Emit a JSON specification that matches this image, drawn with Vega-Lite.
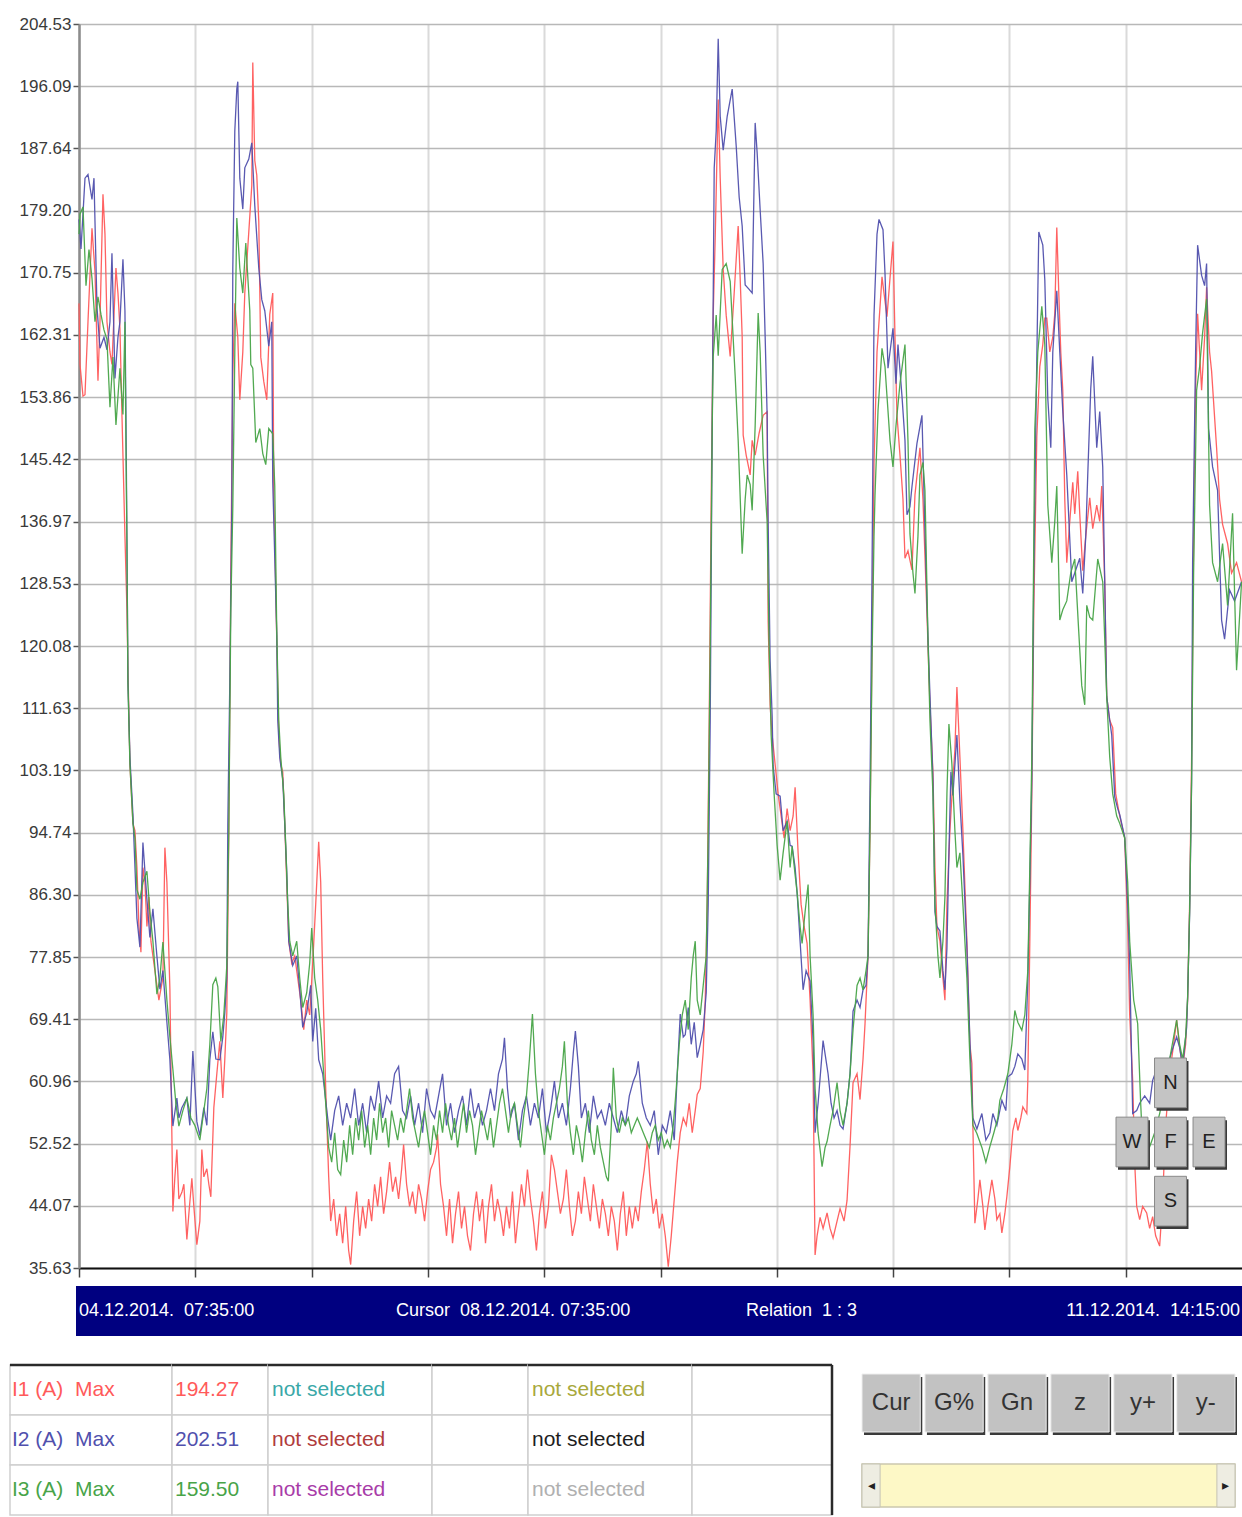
{
"$schema": "https://vega.github.io/schema/vega-lite/v6.json",
"background": "white",
"padding": {"left": 8, "top": 15, "right": 0, "bottom": 0},
"config": {"view": {"stroke": null}, "axis": {"labelFont": "Liberation Sans, Arial, sans-serif"}},
"datasets": {"d": [
{"s":"I1","t":0,"v":166.6},{"s":"I1","t":9,"v":158.3},{"s":"I1","t":36,"v":154},{"s":"I1","t":54,"v":154.2},{"s":"I1","t":81,"v":164.1},{"s":"I1","t":117,"v":176.8},{"s":"I1","t":144,"v":170.9},{"s":"I1","t":171,"v":156.1},{"s":"I1","t":189,"v":164.1},{"s":"I1","t":216,"v":181.4},{"s":"I1","t":234,"v":176},{"s":"I1","t":252,"v":164.1},{"s":"I1","t":279,"v":160},{"s":"I1","t":297,"v":158.3},{"s":"I1","t":333,"v":171.4},{"s":"I1","t":351,"v":168},{"s":"I1","t":369,"v":163.2},{"s":"I1","t":387,"v":151.5},{"s":"I1","t":414,"v":135},{"s":"I1","t":432,"v":125},{"s":"I1","t":441,"v":117},{"s":"I1","t":459,"v":104},{"s":"I1","t":486,"v":96},{"s":"I1","t":504,"v":95},{"s":"I1","t":522,"v":90},{"s":"I1","t":540,"v":82},{"s":"I1","t":558,"v":78.5},{"s":"I1","t":576,"v":90},{"s":"I1","t":594,"v":88},{"s":"I1","t":612,"v":82},{"s":"I1","t":630,"v":86},{"s":"I1","t":648,"v":80},{"s":"I1","t":666,"v":78},{"s":"I1","t":693,"v":75},{"s":"I1","t":720,"v":72},{"s":"I1","t":756,"v":75},{"s":"I1","t":774,"v":92.7},{"s":"I1","t":792,"v":88},{"s":"I1","t":819,"v":73.5},{"s":"I1","t":837,"v":53.6},{"s":"I1","t":846,"v":43.3},{"s":"I1","t":864,"v":48},{"s":"I1","t":882,"v":51.7},{"s":"I1","t":900,"v":45},{"s":"I1","t":927,"v":45.9},{"s":"I1","t":945,"v":47},{"s":"I1","t":972,"v":39.5},{"s":"I1","t":990,"v":43},{"s":"I1","t":1017,"v":47.8},{"s":"I1","t":1035,"v":44},{"s":"I1","t":1062,"v":38.8},{"s":"I1","t":1089,"v":42},{"s":"I1","t":1107,"v":51.7},{"s":"I1","t":1125,"v":48},{"s":"I1","t":1152,"v":49.1},{"s":"I1","t":1170,"v":47},{"s":"I1","t":1188,"v":45.3},{"s":"I1","t":1215,"v":57.4},{"s":"I1","t":1242,"v":62},{"s":"I1","t":1269,"v":66.4},{"s":"I1","t":1296,"v":58.7},{"s":"I1","t":1314,"v":64},{"s":"I1","t":1332,"v":70.3},{"s":"I1","t":1350,"v":95},{"s":"I1","t":1368,"v":130},{"s":"I1","t":1386,"v":156.9},{"s":"I1","t":1404,"v":166.6},{"s":"I1","t":1431,"v":162},{"s":"I1","t":1449,"v":153.5},{"s":"I1","t":1476,"v":160},{"s":"I1","t":1494,"v":168},{"s":"I1","t":1530,"v":176.3},{"s":"I1","t":1557,"v":182.6},{"s":"I1","t":1566,"v":199.3},{"s":"I1","t":1584,"v":186},{"s":"I1","t":1602,"v":184},{"s":"I1","t":1620,"v":177.7},{"s":"I1","t":1638,"v":159.3},{"s":"I1","t":1665,"v":156},{"s":"I1","t":1692,"v":153.5},{"s":"I1","t":1719,"v":165.1},{"s":"I1","t":1746,"v":168},{"s":"I1","t":1755,"v":140.9},{"s":"I1","t":1764,"v":135},{"s":"I1","t":1782,"v":121},{"s":"I1","t":1800,"v":108},{"s":"I1","t":1818,"v":104},{"s":"I1","t":1836,"v":103},{"s":"I1","t":1854,"v":96},{"s":"I1","t":1872,"v":88},{"s":"I1","t":1890,"v":80},{"s":"I1","t":1917,"v":77},{"s":"I1","t":1944,"v":78},{"s":"I1","t":1971,"v":75},{"s":"I1","t":1998,"v":72},{"s":"I1","t":2025,"v":68},{"s":"I1","t":2052,"v":72},{"s":"I1","t":2079,"v":70},{"s":"I1","t":2106,"v":77},{"s":"I1","t":2133,"v":85},{"s":"I1","t":2160,"v":93.5},{"s":"I1","t":2178,"v":88},{"s":"I1","t":2196,"v":75},{"s":"I1","t":2223,"v":60},{"s":"I1","t":2250,"v":48},{"s":"I1","t":2268,"v":42},
{"s":"I1","t":2295,"v":45},{"s":"I1","t":2322,"v":40},{"s":"I1","t":2349,"v":43},{"s":"I1","t":2376,"v":39},{"s":"I1","t":2403,"v":44},{"s":"I1","t":2430,"v":38},{"s":"I1","t":2448,"v":36.1},{"s":"I1","t":2475,"v":42},{"s":"I1","t":2502,"v":46},{"s":"I1","t":2529,"v":40},{"s":"I1","t":2556,"v":44},{"s":"I1","t":2583,"v":41},{"s":"I1","t":2610,"v":45},{"s":"I1","t":2637,"v":42},{"s":"I1","t":2664,"v":47},{"s":"I1","t":2691,"v":44},{"s":"I1","t":2718,"v":48},{"s":"I1","t":2745,"v":43},{"s":"I1","t":2772,"v":46},{"s":"I1","t":2799,"v":50},{"s":"I1","t":2826,"v":46},{"s":"I1","t":2853,"v":48},{"s":"I1","t":2880,"v":45},{"s":"I1","t":2907,"v":49},{"s":"I1","t":2925,"v":52.4},{"s":"I1","t":2952,"v":47},{"s":"I1","t":2979,"v":44},{"s":"I1","t":3006,"v":46},{"s":"I1","t":3033,"v":43},{"s":"I1","t":3060,"v":47},{"s":"I1","t":3087,"v":45},{"s":"I1","t":3114,"v":42},{"s":"I1","t":3141,"v":46},{"s":"I1","t":3168,"v":49},{"s":"I1","t":3195,"v":50},{"s":"I1","t":3222,"v":52},{"s":"I1","t":3231,"v":53.8},{"s":"I1","t":3258,"v":47},{"s":"I1","t":3285,"v":44},{"s":"I1","t":3312,"v":40},{"s":"I1","t":3339,"v":45},{"s":"I1","t":3366,"v":39},{"s":"I1","t":3393,"v":43},{"s":"I1","t":3420,"v":46},{"s":"I1","t":3447,"v":41},{"s":"I1","t":3474,"v":44},{"s":"I1","t":3501,"v":40},{"s":"I1","t":3528,"v":38},{"s":"I1","t":3555,"v":43},{"s":"I1","t":3582,"v":46},{"s":"I1","t":3609,"v":42},{"s":"I1","t":3636,"v":45},{"s":"I1","t":3663,"v":39},{"s":"I1","t":3690,"v":44},{"s":"I1","t":3717,"v":47},{"s":"I1","t":3744,"v":42},{"s":"I1","t":3771,"v":45},{"s":"I1","t":3798,"v":43},{"s":"I1","t":3825,"v":40},{"s":"I1","t":3852,"v":44},{"s":"I1","t":3879,"v":41},{"s":"I1","t":3906,"v":46},{"s":"I1","t":3933,"v":39},{"s":"I1","t":3960,"v":43},{"s":"I1","t":3987,"v":47},{"s":"I1","t":4014,"v":44},{"s":"I1","t":4041,"v":49},{"s":"I1","t":4068,"v":45},{"s":"I1","t":4095,"v":42},{"s":"I1","t":4122,"v":38},{"s":"I1","t":4149,"v":43},{"s":"I1","t":4176,"v":46},{"s":"I1","t":4203,"v":41},{"s":"I1","t":4230,"v":44},{"s":"I1","t":4257,"v":51},{"s":"I1","t":4284,"v":49},{"s":"I1","t":4311,"v":46},{"s":"I1","t":4338,"v":43},{"s":"I1","t":4365,"v":45},{"s":"I1","t":4392,"v":49},{"s":"I1","t":4419,"v":44},{"s":"I1","t":4446,"v":40},{"s":"I1","t":4473,"v":42},{"s":"I1","t":4500,"v":46},{"s":"I1","t":4527,"v":43},{"s":"I1","t":4554,"v":48},{"s":"I1","t":4581,"v":45},{"s":"I1","t":4608,"v":42},{"s":"I1","t":4635,"v":47},{"s":"I1","t":4662,"v":44},{"s":"I1","t":4689,"v":41},{"s":"I1","t":4716,"v":45},{"s":"I1","t":4743,"v":43},{"s":"I1","t":4770,"v":40},{"s":"I1","t":4797,"v":44},{"s":"I1","t":4824,"v":42},{"s":"I1","t":4851,"v":38},{"s":"I1","t":4878,"v":43},{"s":"I1","t":4905,"v":46},{"s":"I1","t":4932,"v":40},{"s":"I1","t":4959,"v":44},{"s":"I1","t":4986,"v":41},{"s":"I1","t":5013,"v":44},{"s":"I1","t":5040,"v":42},{"s":"I1","t":5067,"v":46},{"s":"I1","t":5094,"v":49},{"s":"I1","t":5121,"v":52.8},{"s":"I1","t":5148,"v":47},{"s":"I1","t":5175,"v":43},{"s":"I1","t":5202,"v":45},{"s":"I1","t":5229,"v":41},{"s":"I1","t":5256,"v":43},{"s":"I1","t":5283,"v":40},{"s":"I1","t":5310,"v":35.8},{"s":"I1","t":5337,"v":40},{"s":"I1","t":5364,"v":45},{"s":"I1","t":5391,"v":50},{"s":"I1","t":5418,"v":54},{"s":"I1","t":5445,"v":56},{"s":"I1","t":5472,"v":55},{"s":"I1","t":5499,"v":58},{"s":"I1","t":5526,"v":54},{"s":"I1","t":5553,"v":57},{"s":"I1","t":5571,"v":59.2},{"s":"I1","t":5598,"v":60},{"s":"I1","t":5625,"v":65},{"s":"I1","t":5643,"v":71.9},{"s":"I1","t":5661,"v":85},{"s":"I1","t":5679,"v":110},{"s":"I1","t":5697,"v":140},{"s":"I1","t":5715,"v":165},{"s":"I1","t":5733,"v":175.5},{"s":"I1","t":5760,"v":194.27},
{"s":"I1","t":5778,"v":183.6},{"s":"I1","t":5805,"v":171.2},{"s":"I1","t":5832,"v":165},{"s":"I1","t":5868,"v":159.4},{"s":"I1","t":5904,"v":168},{"s":"I1","t":5940,"v":177.1},{"s":"I1","t":5958,"v":170},{"s":"I1","t":5976,"v":162.1},{"s":"I1","t":5985,"v":148.7},{"s":"I1","t":6012,"v":146},{"s":"I1","t":6048,"v":143.3},{"s":"I1","t":6066,"v":148},{"s":"I1","t":6093,"v":146},{"s":"I1","t":6129,"v":149},{"s":"I1","t":6165,"v":151.4},{"s":"I1","t":6201,"v":151.9},{"s":"I1","t":6210,"v":123.4},{"s":"I1","t":6228,"v":112},{"s":"I1","t":6246,"v":108},{"s":"I1","t":6273,"v":104},{"s":"I1","t":6300,"v":100},{"s":"I1","t":6327,"v":97},{"s":"I1","t":6354,"v":94},{"s":"I1","t":6381,"v":98},{"s":"I1","t":6408,"v":95},{"s":"I1","t":6435,"v":97},{"s":"I1","t":6453,"v":100.9},{"s":"I1","t":6480,"v":92},{"s":"I1","t":6507,"v":85},{"s":"I1","t":6534,"v":82},{"s":"I1","t":6561,"v":79.7},{"s":"I1","t":6588,"v":72},{"s":"I1","t":6615,"v":62},{"s":"I1","t":6633,"v":37.4},{"s":"I1","t":6651,"v":40},{"s":"I1","t":6678,"v":42.5},{"s":"I1","t":6705,"v":41},{"s":"I1","t":6741,"v":43.1},{"s":"I1","t":6768,"v":41},{"s":"I1","t":6795,"v":39.7},{"s":"I1","t":6831,"v":42},{"s":"I1","t":6858,"v":43.7},{"s":"I1","t":6894,"v":42},{"s":"I1","t":6921,"v":44.8},{"s":"I1","t":6948,"v":52.2},{"s":"I1","t":6975,"v":60.8},{"s":"I1","t":7011,"v":62},{"s":"I1","t":7038,"v":58.5},{"s":"I1","t":7065,"v":64},{"s":"I1","t":7083,"v":68.8},{"s":"I1","t":7110,"v":78},{"s":"I1","t":7128,"v":95},{"s":"I1","t":7146,"v":120},{"s":"I1","t":7164,"v":145},{"s":"I1","t":7191,"v":160},{"s":"I1","t":7236,"v":170.2},{"s":"I1","t":7254,"v":168},{"s":"I1","t":7281,"v":164.8},{"s":"I1","t":7308,"v":170},{"s":"I1","t":7335,"v":175},{"s":"I1","t":7353,"v":162},{"s":"I1","t":7371,"v":151.4},{"s":"I1","t":7398,"v":146},{"s":"I1","t":7425,"v":140},{"s":"I1","t":7443,"v":132},{"s":"I1","t":7470,"v":133},{"s":"I1","t":7506,"v":130.4},{"s":"I1","t":7533,"v":140.6},{"s":"I1","t":7578,"v":147},{"s":"I1","t":7605,"v":140},{"s":"I1","t":7641,"v":124.5},{"s":"I1","t":7668,"v":112},{"s":"I1","t":7695,"v":103},{"s":"I1","t":7713,"v":90},{"s":"I1","t":7731,"v":82},{"s":"I1","t":7758,"v":80},{"s":"I1","t":7785,"v":75},{"s":"I1","t":7803,"v":72},{"s":"I1","t":7821,"v":85},{"s":"I1","t":7848,"v":95},{"s":"I1","t":7875,"v":102},{"s":"I1","t":7893,"v":106},{"s":"I1","t":7911,"v":114.5},{"s":"I1","t":7938,"v":105},{"s":"I1","t":7965,"v":95},{"s":"I1","t":8001,"v":80},{"s":"I1","t":8028,"v":66},{"s":"I1","t":8046,"v":63.4},{"s":"I1","t":8055,"v":54.8},{"s":"I1","t":8073,"v":41.7},{"s":"I1","t":8100,"v":45},{"s":"I1","t":8118,"v":47.6},{"s":"I1","t":8145,"v":44},{"s":"I1","t":8163,"v":40.8},{"s":"I1","t":8190,"v":44},{"s":"I1","t":8226,"v":47.6},{"s":"I1","t":8253,"v":45},{"s":"I1","t":8271,"v":42.2},{"s":"I1","t":8298,"v":43},{"s":"I1","t":8316,"v":40.4},{"s":"I1","t":8343,"v":43},{"s":"I1","t":8361,"v":45.3},{"s":"I1","t":8388,"v":49.4},{"s":"I1","t":8415,"v":54.3},{"s":"I1","t":8442,"v":56},{"s":"I1","t":8460,"v":54.3},{"s":"I1","t":8487,"v":56},{"s":"I1","t":8505,"v":57.5},{"s":"I1","t":8541,"v":56.6},{"s":"I1","t":8550,"v":61.1},{"s":"I1","t":8568,"v":80},{"s":"I1","t":8586,"v":100},{"s":"I1","t":8604,"v":125},{"s":"I1","t":8631,"v":148.5},{"s":"I1","t":8658,"v":158},{"s":"I1","t":8685,"v":161},{"s":"I1","t":8703,"v":164.6},{"s":"I1","t":8721,"v":164.6},{"s":"I1","t":8748,"v":160},{"s":"I1","t":8775,"v":162},{"s":"I1","t":8793,"v":165.2},{"s":"I1","t":8811,"v":176.9},{"s":"I1","t":8829,"v":168},{"s":"I1","t":8847,"v":160},{"s":"I1","t":8865,"v":154.8},{"s":"I1","t":8883,"v":140},{"s":"I1","t":8901,"v":131.4},{"s":"I1","t":8928,"v":137},{"s":"I1","t":8955,"v":142.3},{"s":"I1","t":8973,"v":138},{"s":"I1","t":9000,"v":143.8},{"s":"I1","t":9018,"v":138},{"s":"I1","t":9045,"v":130.3},{"s":"I1","t":9072,"v":135},{"s":"I1","t":9108,"v":140.2},{"s":"I1","t":9135,"v":136},{"s":"I1","t":9171,"v":139.2},{"s":"I1","t":9198,"v":137},{"s":"I1","t":9216,"v":141.8},{"s":"I1","t":9243,"v":128.8},{"s":"I1","t":9261,"v":113.2},{"s":"I1","t":9288,"v":110},{"s":"I1","t":9315,"v":109},{"s":"I1","t":9342,"v":100},{"s":"I1","t":9378,"v":97},{"s":"I1","t":9423,"v":94},{"s":"I1","t":9450,"v":82},{"s":"I1","t":9468,"v":70},{"s":"I1","t":9495,"v":61.1},{"s":"I1","t":9513,"v":50},{"s":"I1","t":9531,"v":44},{"s":"I1","t":9558,"v":42.2},{"s":"I1","t":9585,"v":44},{"s":"I1","t":9621,"v":43.1},{"s":"I1","t":9648,"v":41},{"s":"I1","t":9675,"v":42.6},{"s":"I1","t":9702,"v":40},{"s":"I1","t":9738,"v":38.6},{"s":"I1","t":9765,"v":45},{"s":"I1","t":9792,"v":55},{"s":"I1","t":9828,"v":62},{"s":"I1","t":9864,"v":66},{"s":"I1","t":9891,"v":69.3},{"s":"I1","t":9918,"v":65.6},{"s":"I1","t":9945,"v":62.9},{"s":"I1","t":9972,"v":66},{"s":"I1","t":9990,"v":72},{"s":"I1","t":10008,"v":85},{"s":"I1","t":10026,"v":105},{"s":"I1","t":10044,"v":135},{"s":"I1","t":10062,"v":155},{"s":"I1","t":10080,"v":165.2},{"s":"I1","t":10098,"v":160},{"s":"I1","t":10116,"v":154.8},{"s":"I1","t":10143,"v":162},{"s":"I1","t":10161,"v":168.8},{"s":"I1","t":10188,"v":160},{"s":"I1","t":10206,"v":157.4},{"s":"I1","t":10251,"v":147},{"s":"I1","t":10278,"v":140},{"s":"I1","t":10305,"v":136.6},{"s":"I1","t":10350,"v":134},{"s":"I1","t":10386,"v":130},{"s":"I1","t":10431,"v":131.4},{"s":"I1","t":10476,"v":128.8},
{"s":"I2","t":0,"v":178},{"s":"I2","t":18,"v":174},{"s":"I2","t":54,"v":183.6},{"s":"I2","t":81,"v":184.1},{"s":"I2","t":117,"v":180.7},{"s":"I2","t":135,"v":183.6},{"s":"I2","t":162,"v":166.1},{"s":"I2","t":189,"v":160.5},{"s":"I2","t":225,"v":162},{"s":"I2","t":252,"v":160.3},{"s":"I2","t":279,"v":164.1},{"s":"I2","t":297,"v":173.4},{"s":"I2","t":324,"v":156.4},{"s":"I2","t":351,"v":162},{"s":"I2","t":369,"v":164.1},{"s":"I2","t":396,"v":172.6},{"s":"I2","t":414,"v":165.6},{"s":"I2","t":423,"v":151.5},{"s":"I2","t":432,"v":134.4},{"s":"I2","t":441,"v":115.2},{"s":"I2","t":459,"v":104.9},{"s":"I2","t":486,"v":97.2},{"s":"I2","t":522,"v":83.1},{"s":"I2","t":549,"v":79.2},{"s":"I2","t":576,"v":93.4},{"s":"I2","t":612,"v":85.7},{"s":"I2","t":639,"v":80.5},{"s":"I2","t":666,"v":84.4},{"s":"I2","t":702,"v":78},{"s":"I2","t":729,"v":73.5},{"s":"I2","t":756,"v":76},{"s":"I2","t":792,"v":69},{"s":"I2","t":819,"v":63.9},{"s":"I2","t":846,"v":54.9},{"s":"I2","t":882,"v":58.7},{"s":"I2","t":900,"v":56},{"s":"I2","t":927,"v":57.4},{"s":"I2","t":972,"v":58.7},{"s":"I2","t":999,"v":55},{"s":"I2","t":1026,"v":65.1},{"s":"I2","t":1062,"v":55.5},{"s":"I2","t":1089,"v":53.6},{"s":"I2","t":1125,"v":57.4},{"s":"I2","t":1152,"v":55},{"s":"I2","t":1179,"v":63.9},{"s":"I2","t":1206,"v":67.7},{"s":"I2","t":1233,"v":64},{"s":"I2","t":1269,"v":63.9},{"s":"I2","t":1296,"v":67},{"s":"I2","t":1314,"v":70.3},{"s":"I2","t":1332,"v":75},{"s":"I2","t":1341,"v":95.9},{"s":"I2","t":1359,"v":115.2},{"s":"I2","t":1377,"v":138.9},{"s":"I2","t":1386,"v":171.4},{"s":"I2","t":1404,"v":190},{"s":"I2","t":1422,"v":195.7},{"s":"I2","t":1431,"v":196.7},{"s":"I2","t":1449,"v":183.6},{"s":"I2","t":1476,"v":179.4},{"s":"I2","t":1494,"v":185},{"s":"I2","t":1530,"v":186.2},{"s":"I2","t":1557,"v":188.4},{"s":"I2","t":1584,"v":179.9},{"s":"I2","t":1620,"v":171.4},{"s":"I2","t":1647,"v":167.1},{"s":"I2","t":1674,"v":165.6},{"s":"I2","t":1710,"v":160.8},{"s":"I2","t":1737,"v":164.1},{"s":"I2","t":1746,"v":142.3},{"s":"I2","t":1764,"v":132.1},{"s":"I2","t":1782,"v":121.6},{"s":"I2","t":1791,"v":110},{"s":"I2","t":1809,"v":104.9},{"s":"I2","t":1836,"v":102},{"s":"I2","t":1854,"v":95.9},{"s":"I2","t":1872,"v":89.5},{"s":"I2","t":1890,"v":80},{"s":"I2","t":1926,"v":76.7},{"s":"I2","t":1962,"v":78},{"s":"I2","t":1989,"v":73.5},{"s":"I2","t":2016,"v":68.3},{"s":"I2","t":2052,"v":70.3},{"s":"I2","t":2088,"v":74},{"s":"I2","t":2106,"v":66.4},{"s":"I2","t":2133,"v":70.9},{"s":"I2","t":2160,"v":63.9},{"s":"I2","t":2196,"v":62},{"s":"I2","t":2241,"v":56},
{"s":"I2","t":2268,"v":53},{"s":"I2","t":2304,"v":57},{"s":"I2","t":2340,"v":59},{"s":"I2","t":2376,"v":55},{"s":"I2","t":2412,"v":58},{"s":"I2","t":2448,"v":56},{"s":"I2","t":2484,"v":60},{"s":"I2","t":2520,"v":55},{"s":"I2","t":2556,"v":58},{"s":"I2","t":2592,"v":54},{"s":"I2","t":2628,"v":59},{"s":"I2","t":2664,"v":57},{"s":"I2","t":2700,"v":61},{"s":"I2","t":2736,"v":56},{"s":"I2","t":2772,"v":59},{"s":"I2","t":2808,"v":58},{"s":"I2","t":2844,"v":62},{"s":"I2","t":2880,"v":63},{"s":"I2","t":2916,"v":57},{"s":"I2","t":2952,"v":56},{"s":"I2","t":2988,"v":59},{"s":"I2","t":3024,"v":55},{"s":"I2","t":3060,"v":58},{"s":"I2","t":3096,"v":54},{"s":"I2","t":3132,"v":60},{"s":"I2","t":3168,"v":57},{"s":"I2","t":3204,"v":56},{"s":"I2","t":3240,"v":59},{"s":"I2","t":3276,"v":62},{"s":"I2","t":3312,"v":55},{"s":"I2","t":3348,"v":58},{"s":"I2","t":3384,"v":54},{"s":"I2","t":3420,"v":57},{"s":"I2","t":3456,"v":59},{"s":"I2","t":3492,"v":55},{"s":"I2","t":3528,"v":60},{"s":"I2","t":3564,"v":56},{"s":"I2","t":3600,"v":58},{"s":"I2","t":3636,"v":55},{"s":"I2","t":3672,"v":57},{"s":"I2","t":3708,"v":60},{"s":"I2","t":3744,"v":57},{"s":"I2","t":3780,"v":62},{"s":"I2","t":3816,"v":64},{"s":"I2","t":3834,"v":66.9},{"s":"I2","t":3861,"v":60},{"s":"I2","t":3888,"v":56},{"s":"I2","t":3924,"v":58},{"s":"I2","t":3960,"v":53},{"s":"I2","t":3996,"v":57},{"s":"I2","t":4032,"v":59},{"s":"I2","t":4068,"v":55},{"s":"I2","t":4104,"v":58},{"s":"I2","t":4140,"v":56},{"s":"I2","t":4176,"v":60},{"s":"I2","t":4212,"v":54},{"s":"I2","t":4248,"v":57},{"s":"I2","t":4284,"v":61},{"s":"I2","t":4320,"v":56},{"s":"I2","t":4356,"v":58},{"s":"I2","t":4392,"v":55},{"s":"I2","t":4428,"v":60},{"s":"I2","t":4455,"v":65},{"s":"I2","t":4473,"v":67.8},{"s":"I2","t":4500,"v":63},{"s":"I2","t":4527,"v":56},{"s":"I2","t":4563,"v":58},{"s":"I2","t":4599,"v":54},{"s":"I2","t":4635,"v":59},{"s":"I2","t":4671,"v":56},{"s":"I2","t":4707,"v":57},{"s":"I2","t":4743,"v":55},{"s":"I2","t":4779,"v":58},{"s":"I2","t":4815,"v":56},{"s":"I2","t":4851,"v":54},{"s":"I2","t":4887,"v":57},{"s":"I2","t":4923,"v":55},{"s":"I2","t":4959,"v":59},{"s":"I2","t":4995,"v":61},{"s":"I2","t":5022,"v":62},{"s":"I2","t":5040,"v":63.7},{"s":"I2","t":5076,"v":58},{"s":"I2","t":5112,"v":56},{"s":"I2","t":5148,"v":55},{"s":"I2","t":5184,"v":57},{"s":"I2","t":5220,"v":51},{"s":"I2","t":5256,"v":55},{"s":"I2","t":5292,"v":54},{"s":"I2","t":5328,"v":57},{"s":"I2","t":5364,"v":53},{"s":"I2","t":5391,"v":62},{"s":"I2","t":5418,"v":70.1},{"s":"I2","t":5445,"v":67},{"s":"I2","t":5463,"v":67.3},{"s":"I2","t":5490,"v":71},{"s":"I2","t":5517,"v":66},{"s":"I2","t":5544,"v":69},{"s":"I2","t":5571,"v":64.2},{"s":"I2","t":5598,"v":66},{"s":"I2","t":5625,"v":68},{"s":"I2","t":5652,"v":73},{"s":"I2","t":5670,"v":85},{"s":"I2","t":5688,"v":110},{"s":"I2","t":5706,"v":150},{"s":"I2","t":5724,"v":185},{"s":"I2","t":5742,"v":190},{"s":"I2","t":5760,"v":202.51},{"s":"I2","t":5778,"v":192},{"s":"I2","t":5805,"v":187.4},{"s":"I2","t":5841,"v":192},{"s":"I2","t":5886,"v":195.7},{"s":"I2","t":5922,"v":188},{"s":"I2","t":5949,"v":181},{"s":"I2","t":5976,"v":177.1},{"s":"I2","t":6003,"v":169.1},{"s":"I2","t":6039,"v":168.5},{"s":"I2","t":6066,"v":168},{"s":"I2","t":6093,"v":191.1},{"s":"I2","t":6111,"v":187},{"s":"I2","t":6138,"v":179.3},{"s":"I2","t":6165,"v":172},{"s":"I2","t":6183,"v":162.1},{"s":"I2","t":6201,"v":151.4},{"s":"I2","t":6210,"v":136.9},{"s":"I2","t":6228,"v":118},{"s":"I2","t":6246,"v":110.6},{"s":"I2","t":6255,"v":103.8},{"s":"I2","t":6282,"v":100},{"s":"I2","t":6318,"v":99.7},{"s":"I2","t":6345,"v":95},{"s":"I2","t":6381,"v":96.3},{"s":"I2","t":6408,"v":93},{"s":"I2","t":6426,"v":92.9},{"s":"I2","t":6453,"v":90},{"s":"I2","t":6471,"v":86.6},{"s":"I2","t":6498,"v":80},{"s":"I2","t":6525,"v":73.4},{"s":"I2","t":6552,"v":76},{"s":"I2","t":6588,"v":74.6},{"s":"I2","t":6615,"v":66.5},{"s":"I2","t":6633,"v":54},{"s":"I2","t":6660,"v":58},{"s":"I2","t":6705,"v":66.5},{"s":"I2","t":6750,"v":62},{"s":"I2","t":6777,"v":58},{"s":"I2","t":6804,"v":56},{"s":"I2","t":6831,"v":57},{"s":"I2","t":6858,"v":55},{"s":"I2","t":6885,"v":54.5},{"s":"I2","t":6921,"v":58},{"s":"I2","t":6948,"v":62},{"s":"I2","t":6975,"v":70.5},{"s":"I2","t":7011,"v":72},{"s":"I2","t":7038,"v":71},{"s":"I2","t":7065,"v":73.4},{"s":"I2","t":7092,"v":74},{"s":"I2","t":7110,"v":78},{"s":"I2","t":7128,"v":100.9},{"s":"I2","t":7146,"v":130},{"s":"I2","t":7164,"v":165},{"s":"I2","t":7191,"v":176},{"s":"I2","t":7209,"v":178},{"s":"I2","t":7245,"v":176.6},{"s":"I2","t":7263,"v":170.7},{"s":"I2","t":7290,"v":157.8},{"s":"I2","t":7308,"v":160},{"s":"I2","t":7335,"v":163.2},{"s":"I2","t":7362,"v":155.7},{"s":"I2","t":7380,"v":161},{"s":"I2","t":7416,"v":154},{"s":"I2","t":7443,"v":148},{"s":"I2","t":7461,"v":137.9},{"s":"I2","t":7488,"v":139},{"s":"I2","t":7506,"v":141.7},{"s":"I2","t":7551,"v":147.6},{"s":"I2","t":7596,"v":151.4},{"s":"I2","t":7623,"v":135.8},{"s":"I2","t":7650,"v":121.3},{"s":"I2","t":7668,"v":113.5},{"s":"I2","t":7695,"v":102},{"s":"I2","t":7713,"v":84},{"s":"I2","t":7731,"v":82},{"s":"I2","t":7758,"v":81.4},{"s":"I2","t":7785,"v":76},{"s":"I2","t":7803,"v":73.4},{"s":"I2","t":7821,"v":79},{"s":"I2","t":7839,"v":92},{"s":"I2","t":7857,"v":103},{"s":"I2","t":7875,"v":99.8},{"s":"I2","t":7893,"v":104},{"s":"I2","t":7911,"v":108},{"s":"I2","t":7938,"v":99},{"s":"I2","t":7965,"v":91.7},{"s":"I2","t":8001,"v":79.1},{"s":"I2","t":8028,"v":66.5},{"s":"I2","t":8055,"v":56},{"s":"I2","t":8091,"v":54.5},{"s":"I2","t":8136,"v":56.6},{"s":"I2","t":8172,"v":53},{"s":"I2","t":8208,"v":54},{"s":"I2","t":8235,"v":56.6},{"s":"I2","t":8271,"v":55},{"s":"I2","t":8316,"v":58.4},{"s":"I2","t":8352,"v":57},{"s":"I2","t":8370,"v":61.6},{"s":"I2","t":8406,"v":62},{"s":"I2","t":8433,"v":63},{"s":"I2","t":8460,"v":64.7},{"s":"I2","t":8496,"v":64},{"s":"I2","t":8523,"v":62.5},{"s":"I2","t":8550,"v":74.7},{"s":"I2","t":8568,"v":88.2},{"s":"I2","t":8586,"v":101.7},{"s":"I2","t":8604,"v":130},{"s":"I2","t":8622,"v":150},{"s":"I2","t":8640,"v":168},{"s":"I2","t":8649,"v":176.3},{"s":"I2","t":8685,"v":174.5},{"s":"I2","t":8703,"v":169.8},{"s":"I2","t":8730,"v":153.7},{"s":"I2","t":8757,"v":147},{"s":"I2","t":8775,"v":160},{"s":"I2","t":8811,"v":168.3},{"s":"I2","t":8838,"v":160},{"s":"I2","t":8865,"v":152},{"s":"I2","t":8901,"v":143.3},{"s":"I2","t":8946,"v":128.8},{"s":"I2","t":8991,"v":130.8},{"s":"I2","t":9018,"v":132},{"s":"I2","t":9045,"v":127.2},{"s":"I2","t":9072,"v":135},{"s":"I2","t":9090,"v":143.3},{"s":"I2","t":9117,"v":155},{"s":"I2","t":9135,"v":159.4},{"s":"I2","t":9171,"v":147},{"s":"I2","t":9198,"v":151.9},{"s":"I2","t":9225,"v":144.4},{"s":"I2","t":9243,"v":128.8},{"s":"I2","t":9261,"v":113.2},{"s":"I2","t":9288,"v":110},{"s":"I2","t":9306,"v":108},{"s":"I2","t":9333,"v":99.6},{"s":"I2","t":9360,"v":98},{"s":"I2","t":9378,"v":97.2},{"s":"I2","t":9423,"v":94.1},{"s":"I2","t":9450,"v":85},{"s":"I2","t":9468,"v":76.9},{"s":"I2","t":9495,"v":56.6},{"s":"I2","t":9531,"v":57},{"s":"I2","t":9558,"v":58},{"s":"I2","t":9603,"v":59},{"s":"I2","t":9648,"v":58},{"s":"I2","t":9675,"v":61.1},{"s":"I2","t":9720,"v":63},{"s":"I2","t":9765,"v":62},{"s":"I2","t":9810,"v":63},{"s":"I2","t":9846,"v":65},{"s":"I2","t":9891,"v":67},{"s":"I2","t":9918,"v":65.6},{"s":"I2","t":9945,"v":62.9},{"s":"I2","t":9981,"v":68.3},{"s":"I2","t":9990,"v":72.4},{"s":"I2","t":10008,"v":83.7},{"s":"I2","t":10026,"v":101.7},{"s":"I2","t":10035,"v":131.4},{"s":"I2","t":10062,"v":160},{"s":"I2","t":10080,"v":174.5},{"s":"I2","t":10116,"v":170.4},{"s":"I2","t":10143,"v":169},{"s":"I2","t":10161,"v":172},{"s":"I2","t":10179,"v":149.6},{"s":"I2","t":10215,"v":144.4},{"s":"I2","t":10260,"v":141.2},{"s":"I2","t":10296,"v":123.6},{"s":"I2","t":10323,"v":121},{"s":"I2","t":10368,"v":127.7},{"s":"I2","t":10413,"v":126.2},{"s":"I2","t":10476,"v":128.8},
{"s":"I3","t":0,"v":176},{"s":"I3","t":9,"v":178.7},{"s":"I3","t":36,"v":179.7},{"s":"I3","t":63,"v":169},{"s":"I3","t":90,"v":173.9},{"s":"I3","t":117,"v":170},{"s":"I3","t":144,"v":164.1},{"s":"I3","t":171,"v":167.5},{"s":"I3","t":198,"v":165.1},{"s":"I3","t":225,"v":163},{"s":"I3","t":252,"v":161.7},{"s":"I3","t":279,"v":152.5},{"s":"I3","t":306,"v":159.3},{"s":"I3","t":333,"v":150.1},{"s":"I3","t":369,"v":157.8},{"s":"I3","t":396,"v":151.5},{"s":"I3","t":414,"v":164.1},{"s":"I3","t":423,"v":147.2},{"s":"I3","t":432,"v":134},{"s":"I3","t":441,"v":115},{"s":"I3","t":459,"v":104},{"s":"I3","t":486,"v":96},{"s":"I3","t":504,"v":94},{"s":"I3","t":522,"v":87},{"s":"I3","t":549,"v":85.7},{"s":"I3","t":576,"v":88},{"s":"I3","t":612,"v":89.5},{"s":"I3","t":639,"v":84},{"s":"I3","t":666,"v":80},{"s":"I3","t":702,"v":72.8},{"s":"I3","t":729,"v":75},{"s":"I3","t":756,"v":79.9},{"s":"I3","t":792,"v":72},{"s":"I3","t":819,"v":67},{"s":"I3","t":846,"v":62.6},{"s":"I3","t":873,"v":58},{"s":"I3","t":900,"v":54.9},{"s":"I3","t":936,"v":57},{"s":"I3","t":972,"v":58.7},{"s":"I3","t":1008,"v":56},{"s":"I3","t":1044,"v":55},{"s":"I3","t":1089,"v":53},{"s":"I3","t":1125,"v":57},{"s":"I3","t":1152,"v":60},{"s":"I3","t":1179,"v":66},{"s":"I3","t":1206,"v":74.1},{"s":"I3","t":1233,"v":75},{"s":"I3","t":1251,"v":73.8},{"s":"I3","t":1278,"v":66.4},{"s":"I3","t":1305,"v":70},{"s":"I3","t":1332,"v":76.7},{"s":"I3","t":1350,"v":95},{"s":"I3","t":1368,"v":125},{"s":"I3","t":1386,"v":138.9},{"s":"I3","t":1404,"v":160},{"s":"I3","t":1422,"v":178.2},{"s":"I3","t":1449,"v":171.4},{"s":"I3","t":1476,"v":168},{"s":"I3","t":1503,"v":174.8},{"s":"I3","t":1539,"v":165.6},{"s":"I3","t":1548,"v":158.3},{"s":"I3","t":1566,"v":157.8},{"s":"I3","t":1593,"v":147.7},{"s":"I3","t":1629,"v":149.6},{"s":"I3","t":1656,"v":146.2},{"s":"I3","t":1683,"v":144.7},{"s":"I3","t":1710,"v":149.6},{"s":"I3","t":1746,"v":148.9},{"s":"I3","t":1764,"v":141.8},{"s":"I3","t":1782,"v":122},{"s":"I3","t":1800,"v":110},{"s":"I3","t":1818,"v":105},{"s":"I3","t":1845,"v":100},{"s":"I3","t":1863,"v":93},{"s":"I3","t":1881,"v":85},{"s":"I3","t":1899,"v":80},{"s":"I3","t":1926,"v":78},{"s":"I3","t":1962,"v":80},{"s":"I3","t":1989,"v":75},{"s":"I3","t":2016,"v":71},{"s":"I3","t":2052,"v":73},{"s":"I3","t":2079,"v":77},{"s":"I3","t":2097,"v":81.8},{"s":"I3","t":2124,"v":75},{"s":"I3","t":2151,"v":72},{"s":"I3","t":2178,"v":68},{"s":"I3","t":2205,"v":62},{"s":"I3","t":2232,"v":56},{"s":"I3","t":2250,"v":52},
{"s":"I3","t":2277,"v":50},{"s":"I3","t":2304,"v":54},{"s":"I3","t":2331,"v":49},{"s":"I3","t":2358,"v":48.3},{"s":"I3","t":2385,"v":53},{"s":"I3","t":2412,"v":50},{"s":"I3","t":2439,"v":55},{"s":"I3","t":2466,"v":51},{"s":"I3","t":2493,"v":56},{"s":"I3","t":2520,"v":53},{"s":"I3","t":2547,"v":57},{"s":"I3","t":2574,"v":52},{"s":"I3","t":2601,"v":55},{"s":"I3","t":2628,"v":51},{"s":"I3","t":2655,"v":56},{"s":"I3","t":2682,"v":53},{"s":"I3","t":2709,"v":58},{"s":"I3","t":2736,"v":54},{"s":"I3","t":2763,"v":56},{"s":"I3","t":2790,"v":52},{"s":"I3","t":2817,"v":57},{"s":"I3","t":2844,"v":55},{"s":"I3","t":2871,"v":53},{"s":"I3","t":2898,"v":56},{"s":"I3","t":2925,"v":54},{"s":"I3","t":2952,"v":57},{"s":"I3","t":2979,"v":60},{"s":"I3","t":3006,"v":56},{"s":"I3","t":3033,"v":54},{"s":"I3","t":3060,"v":52},{"s":"I3","t":3087,"v":55},{"s":"I3","t":3114,"v":57},{"s":"I3","t":3141,"v":54},{"s":"I3","t":3168,"v":51},{"s":"I3","t":3195,"v":55},{"s":"I3","t":3222,"v":53},{"s":"I3","t":3249,"v":57},{"s":"I3","t":3276,"v":54},{"s":"I3","t":3303,"v":58},{"s":"I3","t":3330,"v":55},{"s":"I3","t":3357,"v":53},{"s":"I3","t":3384,"v":56},{"s":"I3","t":3411,"v":52},{"s":"I3","t":3438,"v":55},{"s":"I3","t":3465,"v":58},{"s":"I3","t":3492,"v":54},{"s":"I3","t":3519,"v":57},{"s":"I3","t":3546,"v":55},{"s":"I3","t":3573,"v":51},{"s":"I3","t":3600,"v":54},{"s":"I3","t":3627,"v":57},{"s":"I3","t":3654,"v":55},{"s":"I3","t":3681,"v":53},{"s":"I3","t":3708,"v":56},{"s":"I3","t":3735,"v":52},{"s":"I3","t":3762,"v":55},{"s":"I3","t":3789,"v":58},{"s":"I3","t":3816,"v":60},{"s":"I3","t":3843,"v":57},{"s":"I3","t":3870,"v":54},{"s":"I3","t":3897,"v":57},{"s":"I3","t":3924,"v":58},{"s":"I3","t":3951,"v":55},{"s":"I3","t":3978,"v":52},{"s":"I3","t":4005,"v":56},{"s":"I3","t":4032,"v":59},{"s":"I3","t":4059,"v":64},{"s":"I3","t":4086,"v":70.1},{"s":"I3","t":4113,"v":62},{"s":"I3","t":4140,"v":57},{"s":"I3","t":4167,"v":54},{"s":"I3","t":4194,"v":51},{"s":"I3","t":4221,"v":55},{"s":"I3","t":4248,"v":53},{"s":"I3","t":4275,"v":56},{"s":"I3","t":4302,"v":58},{"s":"I3","t":4329,"v":60},{"s":"I3","t":4356,"v":63},{"s":"I3","t":4374,"v":66.4},{"s":"I3","t":4401,"v":58},{"s":"I3","t":4428,"v":54},{"s":"I3","t":4455,"v":51},{"s":"I3","t":4482,"v":55},{"s":"I3","t":4509,"v":53},{"s":"I3","t":4536,"v":50},{"s":"I3","t":4563,"v":54},{"s":"I3","t":4590,"v":57},{"s":"I3","t":4617,"v":53},{"s":"I3","t":4644,"v":51},{"s":"I3","t":4671,"v":55},{"s":"I3","t":4698,"v":52},{"s":"I3","t":4725,"v":50},{"s":"I3","t":4752,"v":48},{"s":"I3","t":4770,"v":47.4},{"s":"I3","t":4797,"v":55},{"s":"I3","t":4815,"v":62.8},{"s":"I3","t":4842,"v":56},{"s":"I3","t":4869,"v":54},{"s":"I3","t":4896,"v":56},{"s":"I3","t":4923,"v":55},{"s":"I3","t":4950,"v":56},{"s":"I3","t":4977,"v":54},{"s":"I3","t":5004,"v":55},{"s":"I3","t":5031,"v":56},{"s":"I3","t":5058,"v":55},{"s":"I3","t":5085,"v":54},{"s":"I3","t":5112,"v":53},{"s":"I3","t":5139,"v":52},{"s":"I3","t":5166,"v":54},{"s":"I3","t":5193,"v":55},{"s":"I3","t":5220,"v":53},{"s":"I3","t":5247,"v":54},{"s":"I3","t":5274,"v":52},{"s":"I3","t":5301,"v":53},{"s":"I3","t":5328,"v":52},{"s":"I3","t":5355,"v":55},{"s":"I3","t":5382,"v":60},{"s":"I3","t":5409,"v":66},{"s":"I3","t":5436,"v":70},{"s":"I3","t":5463,"v":72},{"s":"I3","t":5490,"v":68},{"s":"I3","t":5517,"v":75},{"s":"I3","t":5535,"v":78},{"s":"I3","t":5553,"v":80},{"s":"I3","t":5571,"v":72},{"s":"I3","t":5598,"v":70},{"s":"I3","t":5625,"v":74},{"s":"I3","t":5652,"v":78},{"s":"I3","t":5670,"v":95},{"s":"I3","t":5688,"v":120},{"s":"I3","t":5706,"v":150},{"s":"I3","t":5715,"v":159.4},{"s":"I3","t":5742,"v":165},{"s":"I3","t":5760,"v":159.5},{"s":"I3","t":5796,"v":171.2},{"s":"I3","t":5832,"v":172},{"s":"I3","t":5868,"v":169.6},{"s":"I3","t":5913,"v":156.7},{"s":"I3","t":5940,"v":148},{"s":"I3","t":5976,"v":132.6},{"s":"I3","t":6003,"v":140},{"s":"I3","t":6021,"v":143.3},{"s":"I3","t":6048,"v":142},{"s":"I3","t":6066,"v":138.5},{"s":"I3","t":6093,"v":150},{"s":"I3","t":6120,"v":165.3},{"s":"I3","t":6138,"v":160},{"s":"I3","t":6165,"v":146},{"s":"I3","t":6201,"v":136.9},{"s":"I3","t":6219,"v":120},{"s":"I3","t":6237,"v":108},{"s":"I3","t":6264,"v":100},{"s":"I3","t":6291,"v":93},{"s":"I3","t":6318,"v":88.3},{"s":"I3","t":6345,"v":92},{"s":"I3","t":6381,"v":96.3},{"s":"I3","t":6408,"v":90},{"s":"I3","t":6426,"v":92.9},{"s":"I3","t":6453,"v":89},{"s":"I3","t":6471,"v":86.6},{"s":"I3","t":6498,"v":82},{"s":"I3","t":6516,"v":79.7},{"s":"I3","t":6543,"v":84},{"s":"I3","t":6570,"v":87.7},{"s":"I3","t":6588,"v":78},{"s":"I3","t":6615,"v":70},{"s":"I3","t":6633,"v":60},{"s":"I3","t":6660,"v":54},{"s":"I3","t":6696,"v":49.4},{"s":"I3","t":6723,"v":52},{"s":"I3","t":6741,"v":52.8},{"s":"I3","t":6768,"v":55},{"s":"I3","t":6795,"v":57},{"s":"I3","t":6831,"v":60.8},{"s":"I3","t":6858,"v":57},{"s":"I3","t":6885,"v":55},{"s":"I3","t":6921,"v":58},{"s":"I3","t":6948,"v":62},{"s":"I3","t":6975,"v":68},{"s":"I3","t":7011,"v":74},{"s":"I3","t":7038,"v":75},{"s":"I3","t":7065,"v":73.4},{"s":"I3","t":7092,"v":76},{"s":"I3","t":7110,"v":78},{"s":"I3","t":7128,"v":95},{"s":"I3","t":7146,"v":118},{"s":"I3","t":7164,"v":135},{"s":"I3","t":7173,"v":140.6},{"s":"I3","t":7200,"v":152},{"s":"I3","t":7236,"v":160.5},{"s":"I3","t":7263,"v":158},{"s":"I3","t":7281,"v":154},{"s":"I3","t":7308,"v":148},{"s":"I3","t":7335,"v":144.4},{"s":"I3","t":7362,"v":150},{"s":"I3","t":7398,"v":155.7},{"s":"I3","t":7443,"v":161},{"s":"I3","t":7470,"v":148},{"s":"I3","t":7488,"v":135.3},{"s":"I3","t":7515,"v":130},{"s":"I3","t":7533,"v":127.2},{"s":"I3","t":7560,"v":135},{"s":"I3","t":7578,"v":143.3},{"s":"I3","t":7605,"v":145},{"s":"I3","t":7623,"v":141.2},{"s":"I3","t":7650,"v":121.3},{"s":"I3","t":7668,"v":110},{"s":"I3","t":7695,"v":100},{"s":"I3","t":7713,"v":85},{"s":"I3","t":7740,"v":78},{"s":"I3","t":7758,"v":75},{"s":"I3","t":7785,"v":80},{"s":"I3","t":7803,"v":86},{"s":"I3","t":7821,"v":100},{"s":"I3","t":7839,"v":109.5},{"s":"I3","t":7866,"v":104},{"s":"I3","t":7893,"v":95},{"s":"I3","t":7911,"v":90},{"s":"I3","t":7938,"v":92},{"s":"I3","t":7965,"v":85},{"s":"I3","t":8001,"v":75},{"s":"I3","t":8028,"v":64},{"s":"I3","t":8055,"v":55},{"s":"I3","t":8091,"v":53.9},{"s":"I3","t":8136,"v":52},{"s":"I3","t":8172,"v":50},{"s":"I3","t":8208,"v":52.1},{"s":"I3","t":8244,"v":54},{"s":"I3","t":8280,"v":56},{"s":"I3","t":8298,"v":58.4},{"s":"I3","t":8334,"v":60},{"s":"I3","t":8370,"v":62},{"s":"I3","t":8406,"v":66},{"s":"I3","t":8433,"v":70.6},{"s":"I3","t":8460,"v":69},{"s":"I3","t":8496,"v":67.9},{"s":"I3","t":8523,"v":70},{"s":"I3","t":8550,"v":76},{"s":"I3","t":8568,"v":90},{"s":"I3","t":8586,"v":105},{"s":"I3","t":8613,"v":149.6},{"s":"I3","t":8640,"v":160},{"s":"I3","t":8676,"v":166.2},{"s":"I3","t":8703,"v":161},{"s":"I3","t":8730,"v":139.2},{"s":"I3","t":8766,"v":131.4},{"s":"I3","t":8793,"v":137},{"s":"I3","t":8811,"v":141.8},{"s":"I3","t":8838,"v":123.6},{"s":"I3","t":8865,"v":125},{"s":"I3","t":8901,"v":126.2},{"s":"I3","t":8937,"v":130},{"s":"I3","t":8973,"v":131.9},{"s":"I3","t":9009,"v":122},{"s":"I3","t":9036,"v":114.7},{"s":"I3","t":9063,"v":112.1},{"s":"I3","t":9081,"v":125.6},{"s":"I3","t":9108,"v":124},{"s":"I3","t":9135,"v":123.6},{"s":"I3","t":9180,"v":131.9},{"s":"I3","t":9225,"v":128.8},{"s":"I3","t":9261,"v":113.2},{"s":"I3","t":9288,"v":105},{"s":"I3","t":9315,"v":100},{"s":"I3","t":9351,"v":97},{"s":"I3","t":9378,"v":96},{"s":"I3","t":9423,"v":94},{"s":"I3","t":9450,"v":88},{"s":"I3","t":9468,"v":80},{"s":"I3","t":9504,"v":72},{"s":"I3","t":9540,"v":68.8},{"s":"I3","t":9567,"v":58},{"s":"I3","t":9585,"v":52.1},{"s":"I3","t":9621,"v":51},{"s":"I3","t":9648,"v":52.1},{"s":"I3","t":9693,"v":54},{"s":"I3","t":9738,"v":56.6},{"s":"I3","t":9783,"v":60},{"s":"I3","t":9828,"v":64},{"s":"I3","t":9864,"v":67},{"s":"I3","t":9891,"v":69.3},{"s":"I3","t":9918,"v":66},{"s":"I3","t":9945,"v":64},{"s":"I3","t":9972,"v":67},{"s":"I3","t":9990,"v":72.4},{"s":"I3","t":10008,"v":84},{"s":"I3","t":10026,"v":102},{"s":"I3","t":10044,"v":130},{"s":"I3","t":10071,"v":154.8},{"s":"I3","t":10098,"v":158},{"s":"I3","t":10125,"v":162.6},{"s":"I3","t":10161,"v":167.2},{"s":"I3","t":10188,"v":139.2},{"s":"I3","t":10215,"v":131.4},{"s":"I3","t":10260,"v":128.8},{"s":"I3","t":10305,"v":134},{"s":"I3","t":10350,"v":125.6},{"s":"I3","t":10395,"v":138.1},{"s":"I3","t":10431,"v":116.8},{"s":"I3","t":10476,"v":128.8}
]},
"vconcat": [
 {"hconcat": [
   {"width": 69, "height": 1244, "data": {"values": [{}]}, "mark": {"type": "point", "opacity": 0}, "encoding": {}},
   {"width": 1163, "height": 1244,
    "layer": [
     {"data": {"name": "d"},
      "mark": {"type": "line", "strokeWidth": 1.3, "opacity": 0.95},
      "encoding": {
        "x": {"field": "t", "type": "quantitative", "scale": {"domain": [0, 10480], "nice": false, "zero": false},
              "axis": {"values": [0,1048,2096,3144,4192,5240,6288,7336,8384,9432], "labels": false, "title": null, "grid": true, "gridColor": "#dadada", "gridWidth": 2, "domainColor": "#111111", "domainWidth": 2, "tickColor": "#444444", "tickSize": 9, "tickWidth": 1.5}},
        "y": {"field": "v", "type": "quantitative", "scale": {"domain": [35.63, 204.53], "nice": false, "zero": false},
              "axis": {"values": [35.63,44.07,52.52,60.96,69.41,77.85,86.30,94.74,103.19,111.63,120.08,128.53,136.97,145.42,153.86,162.31,170.75,179.20,187.64,196.09,204.53], "format": ".2f", "title": null, "grid": true, "gridColor": "#b8b8b8", "gridWidth": 1.6, "domainColor": "#8c8c8c", "domainWidth": 2.5, "tickColor": "#555555", "tickSize": 6, "tickWidth": 1.5, "labelFontSize": 17, "labelColor": "#3a3a3a", "labelPadding": 2, "labelOverlap": false, "labelFlush": false}},
        "color": {"field": "s", "type": "nominal", "legend": null,
                  "scale": {"domain": ["I1","I2","I3","teal","brown","purple","olive","black","gray"], "range": ["#ff5a5a","#5050ad","#48a448","#3aa8a8","#b03c3c","#a83ca8","#a8a83c","#1e1e1e","#b0b0b0"]}}
      }},
     {"data": {"values": [{"b":"N","c":"F","r":"N"},{"b":"W","c":"W","r":"M"},{"b":"F","c":"F","r":"M"},{"b":"E","c":"E","r":"M"},{"b":"S","c":"F","r":"S"}]},
      "encoding": {
        "x": {"field": "c", "type": "nominal", "scale": {"type": "band", "domain": ["W","F","E"], "range": [1037, 1146], "paddingInner": 0.17, "paddingOuter": 0}, "axis": null},
        "y": {"field": "r", "type": "nominal", "scale": {"type": "band", "domain": ["N","M","S"], "range": [1034, 1202], "paddingInner": 0.16, "paddingOuter": 0}, "axis": null}
      },
      "layer": [
        {"mark": {"type": "rect", "fill": "#3a3a3a", "xOffset": 2, "yOffset": 3}},
        {"mark": {"type": "rect", "fill": "#c4c4c4", "stroke": "#8a8a8a", "strokeWidth": 1}},
        {"mark": {"type": "text", "font": "Liberation Sans, Arial, sans-serif", "fontSize": 20, "color": "#222222"}, "encoding": {"text": {"field": "b"}}}
      ]}
    ],
    "resolve": {"scale": {"x": "independent", "y": "independent"}}
   }
 ], "spacing": 0, "bounds": "flush"},
 {"hconcat": [
   {"width": 66, "height": 50, "data": {"values": [{}]}, "mark": {"type": "point", "opacity": 0}, "encoding": {}},
   {"width": 320, "height": 50, "data": {"values": [{"txt": "04.12.2014.\u00a0 07:35:00"}]},
    "layer": [
     {"mark": {"type": "rect", "fill": "#000080"}, "encoding": {"x": {"value": 0}, "x2": {"value": "width"}, "y": {"value": 0}, "y2": {"value": "height"}}},
     {"mark": {"type": "text", "align": "left", "baseline": "middle", "dx": 3, "font": "Liberation Sans, Arial, sans-serif", "fontSize": 18, "color": "white"}, "encoding": {"x": {"value": 0}, "text": {"field": "txt"}}}
    ]},
   {"width": 350, "height": 50, "data": {"values": [{"txt": "Cursor\u00a0 08.12.2014. 07:35:00"}]},
    "layer": [
     {"mark": {"type": "rect", "fill": "#000080"}, "encoding": {"x": {"value": 0}, "x2": {"value": "width"}, "y": {"value": 0}, "y2": {"value": "height"}}},
     {"mark": {"type": "text", "align": "left", "baseline": "middle", "dx": 0, "font": "Liberation Sans, Arial, sans-serif", "fontSize": 18, "color": "white"}, "encoding": {"x": {"value": 0}, "text": {"field": "txt"}}}
    ]},
   {"width": 497, "height": 50, "data": {"values": [{"txt": "Relation\u00a0 1 : 3", "side": "l"}, {"txt": "11.12.2014.\u00a0 14:15:00", "side": "r"}]},
    "layer": [
     {"mark": {"type": "rect", "fill": "#000080"}, "encoding": {"x": {"value": 0}, "x2": {"value": "width"}, "y": {"value": 0}, "y2": {"value": "height"}}},
     {"transform": [{"filter": "datum.side == 'l'"}], "mark": {"type": "text", "align": "left", "baseline": "middle", "dx": 0, "font": "Liberation Sans, Arial, sans-serif", "fontSize": 18, "color": "white"}, "encoding": {"x": {"value": 0}, "text": {"field": "txt"}}},
     {"transform": [{"filter": "datum.side == 'r'"}], "mark": {"type": "text", "align": "right", "baseline": "middle", "dx": -3, "font": "Liberation Sans, Arial, sans-serif", "fontSize": 18, "color": "white"}, "encoding": {"x": {"value": "width"}, "text": {"field": "txt"}}}
    ]}
 ], "spacing": 0, "bounds": "flush"},
 {"width": 1, "height": 11, "data": {"values": [{}]}, "mark": {"type": "point", "opacity": 0, "size": 1}, "encoding": {}},
 {"hconcat": [
   {"width": 162, "height": 150, "data": {"values": [{"r":1,"txt":"I1 (A)\u00a0 Max","c":"I1"},{"r":2,"txt":"I2 (A)\u00a0 Max","c":"I2"},{"r":3,"txt":"I3 (A)\u00a0 Max","c":"I3"}]},
    "encoding": {"y": {"field": "r", "type": "ordinal", "scale": {"type": "band", "paddingInner": 0, "paddingOuter": 0}, "axis": null}},
    "layer": [
     {"mark": {"type": "rect", "fill": "white", "stroke": "#cfcfcf", "strokeWidth": 1.5}, "encoding": {"x": {"value": 0}, "x2": {"value": "width"}}},
     {"mark": {"type": "text", "align": "left", "baseline": "middle", "dx": 2, "font": "Liberation Sans, Arial, sans-serif", "fontSize": 21}, "encoding": {"x": {"value": 0}, "text": {"field": "txt"}, "color": {"field": "c", "type": "nominal", "legend": null, "scale": {"domain": ["I1","I2","I3","teal","brown","purple","olive","black","gray"], "range": ["#ff5a5a","#5050ad","#48a448","#3aa8a8","#b03c3c","#a83ca8","#a8a83c","#1e1e1e","#b0b0b0"]}}}},
     {"data": {"values": [{}]}, "mark": {"type": "rule", "color": "#2a2a2a", "strokeWidth": 2.5}, "encoding": {"y": {"value": 0}, "x": {"value": 0}, "x2": {"value": "width"}}}
    ]},
   {"width": 96, "height": 150, "data": {"values": [{"r":1,"txt":"194.27","c":"I1"},{"r":2,"txt":"202.51","c":"I2"},{"r":3,"txt":"159.50","c":"I3"}]},
    "encoding": {"y": {"field": "r", "type": "ordinal", "scale": {"type": "band", "paddingInner": 0, "paddingOuter": 0}, "axis": null}},
    "layer": [
     {"mark": {"type": "rect", "fill": "white", "stroke": "#cfcfcf", "strokeWidth": 1.5}, "encoding": {"x": {"value": 0}, "x2": {"value": "width"}}},
     {"mark": {"type": "text", "align": "left", "baseline": "middle", "dx": 3, "font": "Liberation Sans, Arial, sans-serif", "fontSize": 21}, "encoding": {"x": {"value": 0}, "text": {"field": "txt"}, "color": {"field": "c", "type": "nominal", "legend": null, "scale": {"domain": ["I1","I2","I3","teal","brown","purple","olive","black","gray"], "range": ["#ff5a5a","#5050ad","#48a448","#3aa8a8","#b03c3c","#a83ca8","#a8a83c","#1e1e1e","#b0b0b0"]}}}},
     {"data": {"values": [{}]}, "mark": {"type": "rule", "color": "#2a2a2a", "strokeWidth": 2.5}, "encoding": {"y": {"value": 0}, "x": {"value": 0}, "x2": {"value": "width"}}}
    ]},
   {"width": 164, "height": 150, "data": {"values": [{"r":1,"txt":"not selected","c":"teal"},{"r":2,"txt":"not selected","c":"brown"},{"r":3,"txt":"not selected","c":"purple"}]},
    "encoding": {"y": {"field": "r", "type": "ordinal", "scale": {"type": "band", "paddingInner": 0, "paddingOuter": 0}, "axis": null}},
    "layer": [
     {"mark": {"type": "rect", "fill": "white", "stroke": "#cfcfcf", "strokeWidth": 1.5}, "encoding": {"x": {"value": 0}, "x2": {"value": "width"}}},
     {"mark": {"type": "text", "align": "left", "baseline": "middle", "dx": 4, "font": "Liberation Sans, Arial, sans-serif", "fontSize": 21}, "encoding": {"x": {"value": 0}, "text": {"field": "txt"}, "color": {"field": "c", "type": "nominal", "legend": null, "scale": {"domain": ["I1","I2","I3","teal","brown","purple","olive","black","gray"], "range": ["#ff5a5a","#5050ad","#48a448","#3aa8a8","#b03c3c","#a83ca8","#a8a83c","#1e1e1e","#b0b0b0"]}}}},
     {"data": {"values": [{}]}, "mark": {"type": "rule", "color": "#2a2a2a", "strokeWidth": 2.5}, "encoding": {"y": {"value": 0}, "x": {"value": 0}, "x2": {"value": "width"}}}
    ]},
   {"width": 96, "height": 150, "data": {"values": [{"r":1,"txt":"","c":"black"},{"r":2,"txt":"","c":"black"},{"r":3,"txt":"","c":"black"}]},
    "encoding": {"y": {"field": "r", "type": "ordinal", "scale": {"type": "band", "paddingInner": 0, "paddingOuter": 0}, "axis": null}},
    "layer": [
     {"mark": {"type": "rect", "fill": "white", "stroke": "#cfcfcf", "strokeWidth": 1.5}, "encoding": {"x": {"value": 0}, "x2": {"value": "width"}}},
     {"data": {"values": [{}]}, "mark": {"type": "rule", "color": "#2a2a2a", "strokeWidth": 2.5}, "encoding": {"y": {"value": 0}, "x": {"value": 0}, "x2": {"value": "width"}}}
    ]},
   {"width": 164, "height": 150, "data": {"values": [{"r":1,"txt":"not selected","c":"olive"},{"r":2,"txt":"not selected","c":"black"},{"r":3,"txt":"not selected","c":"gray"}]},
    "encoding": {"y": {"field": "r", "type": "ordinal", "scale": {"type": "band", "paddingInner": 0, "paddingOuter": 0}, "axis": null}},
    "layer": [
     {"mark": {"type": "rect", "fill": "white", "stroke": "#cfcfcf", "strokeWidth": 1.5}, "encoding": {"x": {"value": 0}, "x2": {"value": "width"}}},
     {"mark": {"type": "text", "align": "left", "baseline": "middle", "dx": 4, "font": "Liberation Sans, Arial, sans-serif", "fontSize": 21}, "encoding": {"x": {"value": 0}, "text": {"field": "txt"}, "color": {"field": "c", "type": "nominal", "legend": null, "scale": {"domain": ["I1","I2","I3","teal","brown","purple","olive","black","gray"], "range": ["#ff5a5a","#5050ad","#48a448","#3aa8a8","#b03c3c","#a83ca8","#a8a83c","#1e1e1e","#b0b0b0"]}}}},
     {"data": {"values": [{}]}, "mark": {"type": "rule", "color": "#2a2a2a", "strokeWidth": 2.5}, "encoding": {"y": {"value": 0}, "x": {"value": 0}, "x2": {"value": "width"}}}
    ]},
   {"width": 140, "height": 150, "data": {"values": [{"r":1,"txt":"","c":"black"},{"r":2,"txt":"","c":"black"},{"r":3,"txt":"","c":"black"}]},
    "encoding": {"y": {"field": "r", "type": "ordinal", "scale": {"type": "band", "paddingInner": 0, "paddingOuter": 0}, "axis": null}},
    "layer": [
     {"mark": {"type": "rect", "fill": "white", "stroke": "#cfcfcf", "strokeWidth": 1.5}, "encoding": {"x": {"value": 0}, "x2": {"value": "width"}}},
     {"data": {"values": [{}]}, "mark": {"type": "rule", "color": "#2a2a2a", "strokeWidth": 2.5}, "encoding": {"y": {"value": 0}, "x": {"value": 0}, "x2": {"value": "width"}}},
     {"data": {"values": [{}]}, "mark": {"type": "rule", "color": "#2a2a2a", "strokeWidth": 2.5}, "encoding": {"x": {"value": "width"}, "y": {"value": 0}, "y2": {"value": "height"}}}
    ]},
   {"width": 30, "height": 150, "data": {"values": [{}]}, "mark": {"type": "point", "opacity": 0}, "encoding": {}},
   {"vconcat": [
     {"width": 373, "height": 67, "data": {"values": [{"b":"Cur","row":"a"},{"b":"G%","row":"a"},{"b":"Gn","row":"a"},{"b":"z","row":"a"},{"b":"y+","row":"a"},{"b":"y-","row":"a"}]},
      "encoding": {
        "x": {"field": "b", "type": "nominal", "scale": {"type": "band", "domain": ["Cur","G%","Gn","z","y+","y-"], "paddingInner": 0.074, "paddingOuter": 0}, "axis": null},
        "y": {"field": "row", "type": "nominal", "scale": {"type": "band", "domain": ["a"], "paddingInner": 0, "paddingOuter": 0.0776, "align": 1}, "axis": null}
      },
      "layer": [
        {"mark": {"type": "rect", "fill": "#3a3a3a", "xOffset": 2, "yOffset": 3}},
        {"mark": {"type": "rect", "fill": "#c2c2c2", "stroke": "#eeeeee", "strokeWidth": 1}},
        {"mark": {"type": "text", "font": "Liberation Sans, Arial, sans-serif", "fontSize": 24, "color": "#333333"}, "encoding": {"text": {"field": "b"}}}
      ]},
     {"width": 373, "height": 43,
      "layer": [
        {"data": {"values": [{}]}, "mark": {"type": "rect", "fill": "#fdf8c6", "stroke": "#cbc8ae", "strokeWidth": 1.5}, "encoding": {"x": {"value": 0}, "x2": {"value": "width"}, "y": {"value": 0}, "y2": {"value": "height"}}},
        {"data": {"values": [{"p":"L","a":"◂"},{"p":"R","a":"▸"}]},
         "encoding": {"x": {"field": "p", "type": "nominal", "scale": {"type": "band", "domain": ["L","R"], "paddingInner": 0.949, "paddingOuter": 0}, "axis": null}},
         "layer": [
           {"mark": {"type": "rect", "fill": "#eeede2", "stroke": "#c4c3b4"}, "encoding": {"y": {"value": 0}, "y2": {"value": "height"}}},
           {"mark": {"type": "text", "fontSize": 14, "color": "#222222"}, "encoding": {"text": {"field": "a"}}}
         ]}
      ]}
   ], "spacing": 32, "bounds": "flush"}
 ], "spacing": 0, "bounds": "flush"}
],
"spacing": 8,
"bounds": "full"
}
